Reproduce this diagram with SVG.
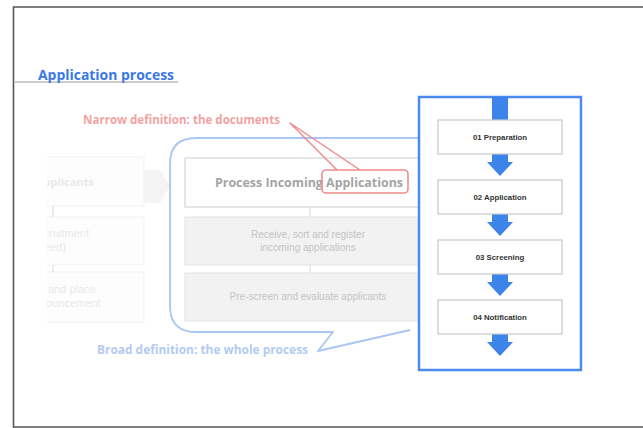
<svg xmlns="http://www.w3.org/2000/svg" width="643" height="428" viewBox="0 0 643 428">
  <defs>
    <style>
      .frame { stroke: #555; stroke-width: 1.6; fill: none; }
      .sans { font-family: "Liberation Sans", Arial, sans-serif; }
      .wide { font-family: "Open Sans", "Liberation Sans", Arial, sans-serif; font-weight: bold; }
      .faint-box { fill: #fdfdfd; stroke: #f1f1f1; stroke-width: 1; }
      .faint-txt { fill: #e9e9e9; font-size: 11px; }
      .mid-box { fill: #f2f2f2; stroke: #e2e2e2; stroke-width: 1; }
      .mid-txt { fill: #c4c4c4; font-size: 10px; text-anchor: middle; }
      .step-box { fill: #fff; stroke: #c8c8c8; stroke-width: 1.2; }
      .step-txt { fill: #333; font-size: 7.8px; font-weight: bold; text-anchor: middle; }
      .flow { fill: #3d84ea; }
      .tick { stroke: #d8d8d8; stroke-width: 1; }
    </style>
    <clipPath id="leftClip">
      <rect x="47" y="150" width="130" height="180"/>
    </clipPath>
    <!-- downward block arrow, origin at top centre -->
    <path id="downArrow" d="M-8 0 H8 V8 H13 L0 22 L-13 8 H-8 Z"/>
  </defs>

  <rect width="643" height="428" fill="#fff"/>

  <!-- page frame -->
  <path class="frame" d="M643 7 H13.5 V427 H643"/>

  <!-- heading -->
  <g id="heading">
    <line x1="15" y1="82" x2="178" y2="82" stroke="#9a9a9a" stroke-width="1"/>
    <text class="wide" x="38" y="80" font-size="14" fill="#3b78e7" textLength="136" lengthAdjust="spacingAndGlyphs">Application process</text>
  </g>

  <!-- faded left-hand column -->
  <g id="left-column" clip-path="url(#leftClip)">
    <g id="left-applicants">
      <rect class="faint-box" x="38" y="157" width="106" height="49"/>
      <text class="wide faint-txt" x="36" y="186" font-size="12">Applicants</text>
    </g>
    <g id="left-need">
      <rect class="faint-box" x="38" y="217" width="106" height="48"/>
      <text class="sans faint-txt" x="34" y="237">recruitment</text>
      <text class="sans faint-txt" x="34" y="251">(need)</text>
    </g>
    <g id="left-announce">
      <rect class="faint-box" x="38" y="272" width="106" height="50"/>
      <text class="sans faint-txt" x="48" y="293">and place</text>
      <text class="sans faint-txt" x="28" y="307">announcement</text>
    </g>
    <line class="tick" x1="53" y1="206" x2="53" y2="217" stroke="#eee"/>
    <line class="tick" x1="53" y1="265" x2="53" y2="272" stroke="#eee"/>
  </g>

  <!-- faded block arrow into the process -->
  <g id="left-arrow">
    <path d="M144 170 H160 L170 186 L160 203 H144 Z" fill="#f4f4f4"/>
  </g>

  <!-- broad-definition callout -->
  <g id="broad-callout">
    <path d="M420 138 H196 Q170 138 170 164 V306 Q170 332 196 332 H333 L318 351 L410 330" fill="none" stroke="#aac6f2" stroke-width="1.8" stroke-linejoin="round"/>
    <text class="wide" x="97" y="354" font-size="12" fill="#b3cbf2" textLength="211" lengthAdjust="spacingAndGlyphs">Broad definition: the whole process</text>
  </g>

  <!-- process stack -->
  <g id="process-main">
    <rect x="185" y="158" width="246" height="49" fill="#fff" stroke="#d6d6d6" stroke-width="1.2"/>
    <text class="wide" x="215" y="187" font-size="12.5" fill="#a4a4a4" textLength="188" lengthAdjust="spacingAndGlyphs">Process Incoming Applications</text>
  </g>
  <g id="process-receive">
    <rect class="mid-box" x="185" y="217" width="246" height="48"/>
    <text class="sans mid-txt" x="308" y="238">Receive, sort and register</text>
    <text class="sans mid-txt" x="308" y="251">incoming applications</text>
  </g>
  <g id="process-screen">
    <rect class="mid-box" x="185" y="273" width="246" height="48"/>
    <text class="sans mid-txt" x="308" y="300">Pre-screen and evaluate applicants</text>
  </g>
  <g id="process-links">
    <line class="tick" x1="310" y1="207" x2="310" y2="217"/>
    <line class="tick" x1="310" y1="265" x2="310" y2="273"/>
  </g>

  <!-- narrow-definition callout -->
  <g id="narrow-callout">
    <text class="wide" x="83" y="124" font-size="12" fill="#f3a3a3" textLength="197" lengthAdjust="spacingAndGlyphs">Narrow definition: the documents</text>
    <path d="M337 170 L290 123 L360 170" fill="none" stroke="#ef8c8c" stroke-width="1.5" stroke-linejoin="round"/>
    <rect x="322" y="170" width="86" height="23" rx="4" fill="none" stroke="#ef8c8c" stroke-width="1.6"/>
  </g>

  <!-- step panel -->
  <g id="step-panel">
    <rect x="419" y="97" width="162" height="273" fill="#fff" stroke="#4a8af0" stroke-width="2.5"/>
  </g>

  <g id="step-flow">
    <rect class="flow" x="492" y="97" width="16" height="23"/>
    <use href="#downArrow" class="flow" x="500" y="154"/>
    <use href="#downArrow" class="flow" x="500" y="214"/>
    <use href="#downArrow" class="flow" x="500" y="274"/>
    <use href="#downArrow" class="flow" x="500" y="334"/>
  </g>

  <g id="step-01">
    <rect class="step-box" x="438" y="120" width="124" height="34"/>
    <text class="sans step-txt" x="500" y="140">01 Preparation</text>
  </g>
  <g id="step-02">
    <rect class="step-box" x="438" y="180" width="124" height="34"/>
    <text class="sans step-txt" x="500" y="200">02 Application</text>
  </g>
  <g id="step-03">
    <rect class="step-box" x="438" y="240" width="124" height="34"/>
    <text class="sans step-txt" x="500" y="260">03 Screening</text>
  </g>
  <g id="step-04">
    <rect class="step-box" x="438" y="300" width="124" height="34"/>
    <text class="sans step-txt" x="500" y="320">04 Notification</text>
  </g>
</svg>
